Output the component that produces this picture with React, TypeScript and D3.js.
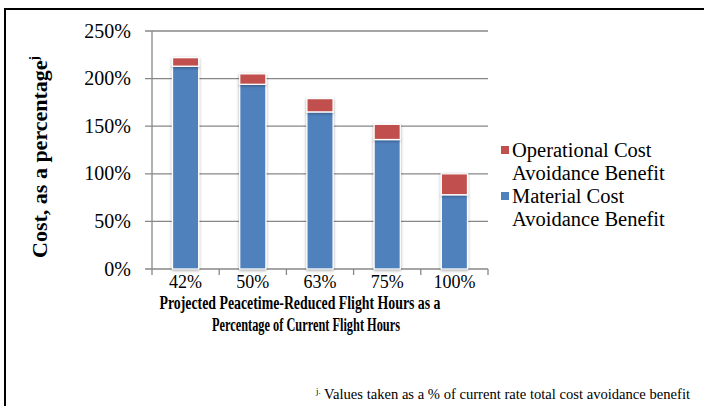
import React from "react";
import * as d3 from "d3";

const categories = ["42%", "50%", "63%", "75%", "100%"];
const materialValues = [213, 194, 165, 136, 78];
const operationalValues = [9, 11, 14, 16, 22];
const yTicks = [0, 50, 100, 150, 200, 250];

const W = 704;
const H = 406;
const FONT = "'Liberation Serif', 'Times New Roman', serif";
const BLUE = "#4F81BD";
const RED = "#C0504D";
const GRID = "#878787";

export default function App() {
  const x = d3.scaleBand<string>().domain(categories).range([152, 488]).paddingInner(0.61).paddingOuter(0.305);
  const y = d3.scaleLinear().domain([0, 250]).range([269, 31]);
  const band = d3.scaleBand<string>().domain(categories).range([152, 488]);

  const rows = categories.map((c, i) => ({ c, m: materialValues[i], o: operationalValues[i] }));
  const stack = d3.stack<any>().keys(["m", "o"])(rows);

  return (
    <svg width={W} height={H} style={{ position: "absolute", left: 0, top: 0 }} fontFamily={FONT}>
      <defs>
        <filter id="sh" x="-30%" y="-10%" width="160%" height="130%">
          <feDropShadow dx="0" dy="1" stdDeviation="1.5" floodColor="#000" floodOpacity="0.35" />
        </filter>
      </defs>
      <rect x={0} y={0} width={W} height={H} fill="#fff" />
      <rect x={5} y={9} width={W + 20} height={H + 20} fill="none" stroke="#000" strokeWidth={2} />

      {yTicks.map((t) => (
        <g key={t}>
          <line x1={145} x2={488} y1={y(t)} y2={y(t)} stroke={GRID} strokeWidth={1.3} />
          <text x={131} y={y(t) + 6.5} textAnchor="end" fontSize={20}>{t}%</text>
        </g>
      ))}
      <line x1={152} x2={152} y1={31} y2={269} stroke={GRID} strokeWidth={1.3} />
      {[...categories.map((c) => band(c) as number), 488].map((v, i) => (
        <line key={i} x1={v} x2={v} y1={269} y2={275} stroke={GRID} strokeWidth={1.3} />
      ))}

      {stack.map((s, si) => (
        <g key={si} filter="url(#sh)">
          {s.map((d: any, i: number) => (
            <rect key={i} x={x(categories[i])} y={y(d[1])} width={x.bandwidth()} height={y(d[0]) - y(d[1])}
              fill={si === 0 ? BLUE : RED} stroke="#fff" strokeWidth={1.3} />
          ))}
        </g>
      ))}

      {categories.map((c) => (
        <text key={c} x={(band(c) as number) + band.bandwidth() / 2} y={288} textAnchor="middle" fontSize={18}>{c}</text>
      ))}

      <text x={300} y={308.5} textAnchor="middle" fontSize={18.5} fontWeight="bold" textLength={281} lengthAdjust="spacingAndGlyphs">Projected Peacetime-Reduced Flight Hours as a</text>
      <text x={306} y={330.5} textAnchor="middle" fontSize={18.5} fontWeight="bold" textLength={188} lengthAdjust="spacingAndGlyphs">Percentage of Current Flight Hours</text>

      <text transform="translate(47,157) rotate(-90)" textAnchor="middle" fontSize={22} fontWeight="bold">
        Cost, as a percentage<tspan fontSize={13} dy="-0.7em">j</tspan>
      </text>

      <rect x={501} y={146} width={8} height={8} fill={RED} />
      <text x={512} y={157} fontSize={20.5}>Operational Cost</text>
      <text x={512} y={180} fontSize={20.5}>Avoidance Benefit</text>
      <rect x={501} y={192} width={8} height={8} fill={BLUE} />
      <text x={512} y={203} fontSize={20.5}>Material Cost</text>
      <text x={512} y={226} fontSize={20.5}>Avoidance Benefit</text>

      <text x={690} y={399} textAnchor="end" fontSize={14.6}>
        <tspan fontSize={9} dy="-5">j.</tspan>
        <tspan dy="5"> Values taken as a % of current rate total cost avoidance benefit</tspan>
      </text>
    </svg>
  );
}
